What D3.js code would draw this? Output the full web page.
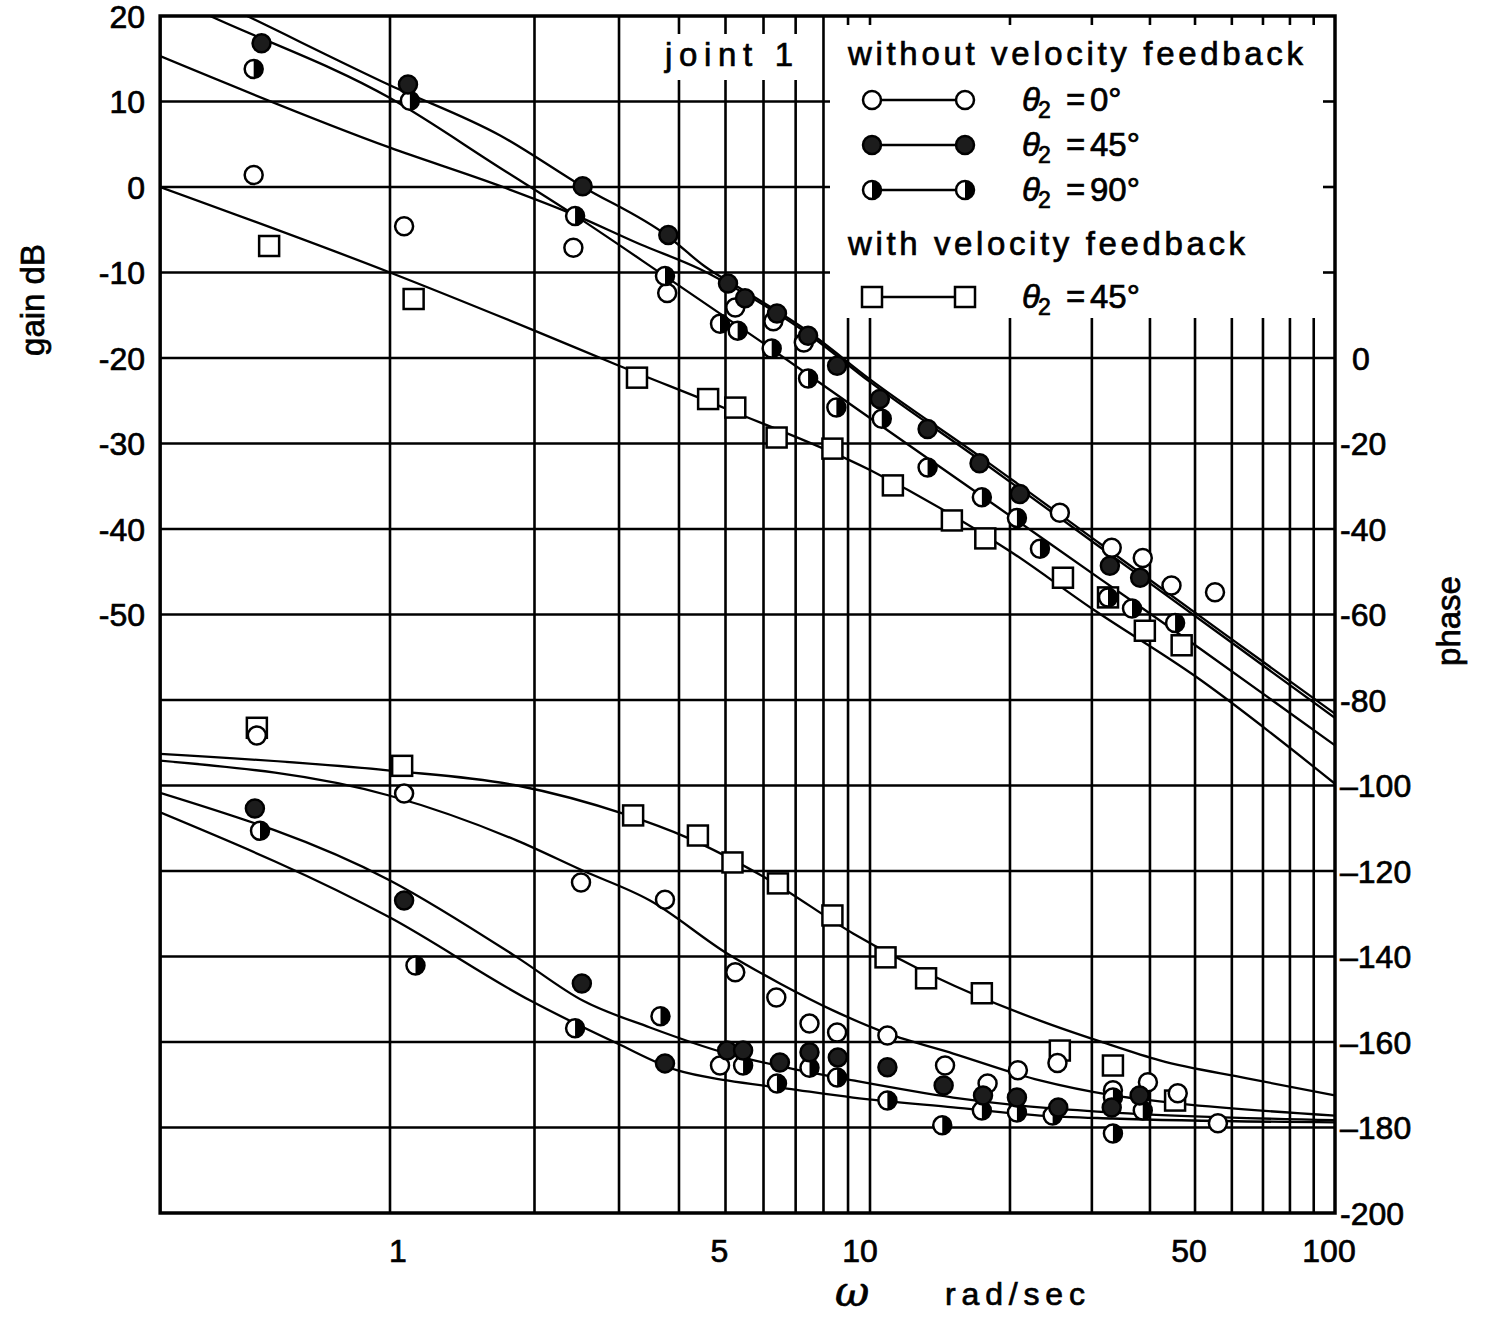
<!DOCTYPE html>
<html>
<head>
<meta charset="utf-8">
<script src="https://cdn.jsdelivr.net/npm/d3@7"></script>
<style>
body { margin: 0; background: #fff; }
text { font-family: "Liberation Sans", Arial, Helvetica, sans-serif; fill: #000; stroke: #000; stroke-width: 0.7px; }
</style>
</head>
<body>
<svg id="chart" width="1487" height="1319"></svg>
<script>
// Bode plot of joint 1
const freqGrid = [1, 2, 3, 4, 5, 6, 7, 8, 9, 10, 20, 30, 40, 50, 60, 70, 80, 90]
const freqTicks = [1, 5, 10, 50, 100]
const gainGrid = [20, 10, 0, -10, -20, -30, -40, -50, -60, -70, -80, -90, -100, -110, -120]
const gainTicks = [20, 10, 0, -10, -20, -30, -40, -50]
const phaseTicks = [0, -20, -40, -60, -80, -100, -120, -140, -160, -180, -200]
const phaseTickLabels = ["0", "-20", "-40", "-60", "-80", "–100", "–120", "–140", "–160", "–180", "-200"]

// fitted curves [omega, gain dB]
const gainCurve0 = [[0.332, 15.3], [1, 4.6], [1.7, 0.1], [2.41, -3.2], [3.32, -6.7], [4.42, -9.6], [5.49, -12.5], [7.43, -17.2], [10, -22.8], [17.2, -31.9], [31.2, -42.1], [58.6, -52.9], [100, -62.1]]
const gainCurve45 = [[0.332, 24.9], [0.504, 20], [1, 11.9], [1.7, 6.0], [2.51, 0.1], [3.78, -5.7], [4.53, -9.3], [5.49, -12.2], [7.43, -16.9], [10, -22.5], [17.2, -31.5], [31.2, -41.7], [58.6, -52.5], [100, -61.6]]
const gainCurve90 = [[0.332, 22.7], [0.422, 20], [1, 10.4], [1.7, 2.2], [2.41, -3.2], [3.78, -10.6], [5.9, -18.0], [9.53, -26.2], [19, -37.6], [31.2, -45.8], [51.3, -54.0], [100, -65.3]]
const gainCurveVF = [[0.332, 0], [1, -10], [2, -16.8], [3, -20.9], [5, -25.9], [10, -33.1], [20, -42.6], [30, -49.3], [50, -57.2], [100, -69.8]]

// fitted curves [omega, phase deg]
const phaseCurve0 = [[0.332, -94.2], [1, -102.4], [1.84, -112.9], [2.52, -119.9], [3.48, -126.9], [5.04, -139.3], [6.49, -146.3], [8.37, -152.6], [10.9, -158], [15.1, -162.7], [23.2, -169], [33.3, -172.5], [46.4, -174.4], [100, -177.2]]
const phaseCurve45 = [[0.332, -101.7], [1, -122.2], [1.84, -140.2], [2.52, -150.3], [3.48, -156.6], [5.04, -162.7], [6.72, -166], [9.22, -169], [15.1, -173], [23.2, -175.3], [33.3, -176.5], [100, -178.3]]
const phaseCurve90 = [[0.332, -106.3], [1, -130.9], [1.96, -150.3], [2.97, -160.3], [3.96, -166.6], [5.04, -169], [6.72, -170.9], [9.22, -173], [15.1, -175.3], [23.2, -177.2], [33.3, -177.9], [100, -178.8]]
const phaseCurveVF = [[0.332, -92.6], [1, -96.5], [1.84, -100], [3.06, -106.6], [4.16, -112.2], [6.1, -121.8], [9.22, -134.6], [13.9, -144.9], [23.2, -155], [31.7, -160.1], [42, -164.3], [64.7, -168.5], [100, -172.5]]

// measured points [omega, value]
const gainPts0 = [[0.52, 1.4], [1.07, -4.6], [2.41, -7.1], [3.78, -12.4], [5.24, -14.1], [6.29, -15.7], [7.28, -18.2], [25.6, -38.1], [33.1, -42.2], [38.6, -43.4], [44.5, -46.6], [55.2, -47.4]]
const gainPts45 = [[0.54, 16.8], [1.09, 12.0], [2.52, 0.1], [3.8, -5.6], [5.06, -11.3], [5.49, -13.0], [6.4, -14.8], [7.43, -17.4], [8.54, -20.9], [10.5, -24.8], [13.3, -28.3], [17.2, -32.3], [21, -35.9], [32.8, -44.3], [38.1, -45.7]]
const gainPts90 = [[0.52, 13.8], [1.1, 10.1], [2.43, -3.4], [3.74, -10.4], [4.87, -16.0], [5.3, -16.8], [6.24, -18.9], [7.43, -22.4], [8.51, -25.8], [10.6, -27.1], [13.3, -32.8], [17.4, -36.3], [20.7, -38.7], [23.2, -42.3], [32.5, -48], [36.6, -49.3], [45.3, -51.0]]
const gainPtsVF = [[0.56, -6.9], [1.12, -13.1], [3.27, -22.3], [4.6, -24.8], [5.24, -25.8], [6.39, -29.3], [8.35, -30.6], [11.2, -34.9], [15, -39], [17.7, -41.1], [26, -45.7], [32.5, -48], [39, -51.9], [46.8, -53.6]]

const phasePts0 = [[0.528, -88.3], [1.07, -101.9], [2.5, -122.7], [3.74, -126.7], [4.87, -165.5], [5.24, -143.7], [6.38, -149.6], [7.48, -155.7], [8.54, -157.8], [10.9, -158.5], [14.5, -165.5], [17.9, -169.7], [20.8, -166.6], [25.3, -164.9], [33.3, -171.3], [39.6, -169.4], [45.9, -172.0], [56, -179.0]]
const phasePts45 = [[0.523, -105.4], [1.07, -126.9], [2.51, -146.3], [3.74, -165.0], [5.04, -162.0], [5.44, -162.0], [6.49, -164.8], [7.48, -162.4], [8.57, -163.6], [10.9, -165.9], [14.4, -170.2], [17.5, -172.5], [20.7, -173.0], [25.4, -175.3], [33.1, -175.3], [38, -172.5]]
const phasePts90 = [[0.536, -110.6], [1.13, -142.1], [2.43, -156.8], [3.66, -154.0], [5.44, -165.5], [6.4, -169.7], [7.48, -166.0], [8.54, -168.3], [10.9, -173.7], [14.3, -179.5], [17.4, -176.0], [20.7, -176.5], [24.7, -177.2], [33.3, -173.0], [33.3, -181.4], [38.6, -176.0]]
const phasePtsVF = [[0.528, -86.5], [1.06, -95.4], [3.21, -107], [4.38, -111.7], [5.17, -118], [6.43, -122.9], [8.35, -130.4], [10.8, -140.2], [13.2, -145.1], [17.4, -148.6], [25.6, -162], [33.3, -165.5], [45.3, -173.7]]

const legendRows = [
    {mark: "open", label: "0°"},
    {mark: "filled", label: "45°"},
    {mark: "half", label: "90°"},
    {mark: "square", label: "45°"}
]

const svg = d3.select("#chart")

// log frequency axis, the paper's decades are not quite equal
var x = d3.scaleLog().domain([1, 10, 100]).range([390, 870, 1335])
var yGain = d3.scaleLinear().domain([20, -120]).range([16, 1213])
var yPhase = d3.scaleLinear().domain([80, -200]).range([16, 1213])

const wMin = 0.332
const plotLeft = x(wMin), plotRight = x(100), plotTop = yGain(20), plotBottom = yGain(-120)
const legendLeft = 830, legendBottom = 318

// grid
var grid = svg.append("g").attr("stroke", "#000").attr("stroke-width", 2.6)
grid.selectAll(".vgrid")
    .data(freqGrid)
    .enter()
    .append("line")
        .attr("x1", d => x(d)).attr("x2", d => x(d))
        .attr("y1", d => x(d) > legendLeft ? legendBottom : plotTop)
        .attr("y2", plotBottom)
grid.selectAll(".hgrid")
    .data(gainGrid.slice(1, -1))
    .enter()
    .append("line")
        .attr("x1", plotLeft)
        .attr("x2", d => yGain(d) < legendBottom ? legendLeft : plotRight)
        .attr("y1", d => yGain(d)).attr("y2", d => yGain(d))

// little ticks where the grid is cut by the legend
grid.selectAll(".ttick")
    .data(freqGrid.filter(d => x(d) > legendLeft))
    .enter()
    .append("line")
        .attr("x1", d => x(d)).attr("x2", d => x(d))
        .attr("y1", plotTop).attr("y2", plotTop + 9)
grid.selectAll(".rtick")
    .data(gainGrid.filter(d => yGain(d) < legendBottom && d < 20))
    .enter()
    .append("line")
        .attr("x1", plotRight - 12).attr("x2", plotRight)
        .attr("y1", d => yGain(d)).attr("y2", d => yGain(d))

// white patch behind "joint 1"
svg.append("rect")
    .attr("x", 655).attr("y", 34)
    .attr("width", 160).attr("height", 46)
    .attr("fill", "#fff")

svg.append("rect")
    .attr("x", plotLeft).attr("y", plotTop)
    .attr("width", plotRight - plotLeft).attr("height", plotBottom - plotTop)
    .attr("fill", "none").attr("stroke", "#000").attr("stroke-width", 3.5)

svg.append("clipPath").attr("id", "plotClip")
    .append("rect")
    .attr("x", plotLeft).attr("y", plotTop)
    .attr("width", plotRight - plotLeft).attr("height", plotBottom - plotTop)

// curves
var gainLine = d3.line().x(d => x(d[0])).y(d => yGain(d[1])).curve(d3.curveMonotoneX)
var phaseLine = d3.line().x(d => x(d[0])).y(d => yPhase(d[1])).curve(d3.curveMonotoneX)

var curves = svg.append("g").attr("clip-path", "url(#plotClip)")
    .attr("fill", "none").attr("stroke", "#000").attr("stroke-width", 2.3)
curves.selectAll(".gain")
    .data([gainCurve0, gainCurve45, gainCurve90, gainCurveVF])
    .enter()
    .append("path")
        .attr("d", d => gainLine(d))
curves.selectAll(".phase")
    .data([phaseCurve0, phaseCurve45, phaseCurve90, phaseCurveVF])
    .enter()
    .append("path")
        .attr("d", d => phaseLine(d))

function addMark(sel, type) {
    if (type == "square") {
        sel.append("rect")
            .attr("x", -10).attr("y", -10).attr("width", 20).attr("height", 20)
            .attr("fill", "#fff").attr("stroke", "#000").attr("stroke-width", 2.5)
        return
    }
    sel.append("circle")
        .attr("r", 9)
        .attr("fill", type == "filled" ? "#1c1c1c" : "#fff")
        .attr("stroke", "#000").attr("stroke-width", 2.5)
    if (type == "half") {
        sel.append("path").attr("d", "M0,-9A9,9 0 0 1 0,9Z").attr("fill", "#000")
    }
}

function drawPoints(data, yScale, type) {
    var sel = svg.append("g").selectAll("g")
        .data(data)
        .enter()
        .append("g")
            .attr("transform", d => "translate(" + x(d[0]) + "," + yScale(d[1]) + ")")
    addMark(sel, type)
}

drawPoints(gainPtsVF, yGain, "square")
drawPoints(phasePtsVF, yPhase, "square")
drawPoints(gainPts0, yGain, "open")
drawPoints(phasePts0, yPhase, "open")
drawPoints(gainPts90, yGain, "half")
drawPoints(phasePts90, yPhase, "half")
drawPoints(gainPts45, yGain, "filled")
drawPoints(phasePts45, yPhase, "filled")

// legend
const legendY = [100, 145, 190, 297]
var legend = svg.append("g")
legend.append("text").attr("x", 665).attr("y", 66)
    .attr("font-size", 33).attr("textLength", 128).attr("lengthAdjust", "spacing")
    .text("joint 1")
legend.append("text").attr("x", 848).attr("y", 65)
    .attr("font-size", 33).attr("textLength", 455).attr("lengthAdjust", "spacing")
    .text("without velocity feedback")
legend.append("text").attr("x", 848).attr("y", 255)
    .attr("font-size", 33).attr("textLength", 397).attr("lengthAdjust", "spacing")
    .text("with velocity feedback")

legendRows.forEach(function(row, i) {
    var ly = legendY[i]
    legend.append("line")
        .attr("x1", 872).attr("x2", 965)
        .attr("y1", ly).attr("y2", ly)
        .attr("stroke", "#000").attr("stroke-width", 2.3)
    addMark(legend.append("g").attr("transform", "translate(872," + ly + ")"), row.mark)
    addMark(legend.append("g").attr("transform", "translate(965," + ly + ")"), row.mark)
    var t = legend.append("text").attr("y", ly + 11).attr("font-size", 33)
    t.append("tspan").attr("x", 1022).attr("font-style", "italic").text("θ")
    t.append("tspan").attr("x", 1038).attr("dy", 7).attr("font-size", 23).text("2")
    t.append("tspan").attr("x", 1066).attr("dy", -7).text("=")
    t.append("tspan").attr("x", 1090).text(row.label)
})

// tick labels
svg.append("g").selectAll("text")
    .data(gainTicks)
    .enter()
    .append("text")
        .attr("x", 145).attr("y", d => yGain(d))
        .attr("dy", "0.36em").attr("text-anchor", "end")
        .attr("font-size", 32)
        .text(d => d)
svg.append("g").selectAll("text")
    .data(phaseTicks)
    .enter()
    .append("text")
        .attr("x", d => d == 0 ? 1352 : 1340).attr("y", d => yPhase(d))
        .attr("dy", "0.36em")
        .attr("font-size", 32)
        .text((d, i) => phaseTickLabels[i])
svg.append("g").selectAll("text")
    .data(freqTicks)
    .enter()
    .append("text")
        .attr("x", d => x(d) + (d == 1 ? 8 : d == 10 ? -10 : -6)).attr("y", plotBottom + 49)
        .attr("text-anchor", "middle")
        .attr("font-size", 32)
        .text(d => d)

// axis titles
svg.append("text")
    .attr("transform", "translate(44,300) rotate(-90)")
    .attr("text-anchor", "middle").attr("font-size", 33)
    .text("gain dB")
svg.append("text")
    .attr("transform", "translate(1460,621) rotate(-90)")
    .attr("text-anchor", "middle").attr("font-size", 33)
    .text("phase")
svg.append("text")
    .attr("x", 852).attr("y", 1306)
    .attr("text-anchor", "middle")
    .style("font-family", "'DejaVu Serif', serif").style("font-style", "italic")
    .attr("font-size", 42)
    .text("ω")
svg.append("text")
    .attr("x", 945).attr("y", 1305)
    .attr("font-size", 32).attr("textLength", 140).attr("lengthAdjust", "spacing")
    .text("rad/sec")
</script>
</body>
</html>
